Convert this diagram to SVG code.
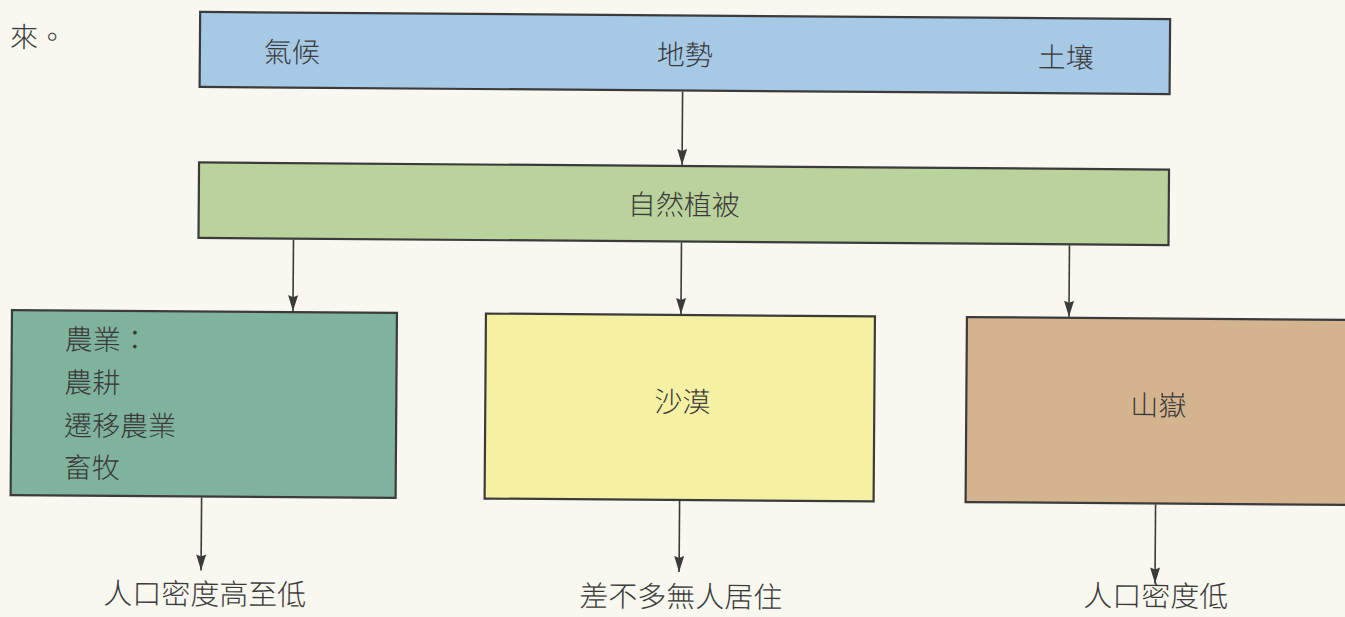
<svg xmlns="http://www.w3.org/2000/svg" width="1345" height="617" viewBox="0 0 1345 617">
  <style>
    .box { stroke: #3b3b3b; stroke-width: 2.2; }
    .t { font-family: "Noto Sans CJK TC", "Noto Sans CJK SC", sans-serif; font-size: 28px; font-weight: 300; fill: #3a3a3a; }
    .c { text-anchor: middle; }
    .lbl { font-size: 29px; }
    .conn { stroke: #3b3b3b; stroke-width: 1.6; fill: none; marker-end: url(#arrow); }
  </style>
  <defs>
    <marker id="arrow" viewBox="0 0 16 10" refX="16" refY="5" markerWidth="16" markerHeight="10" markerUnits="userSpaceOnUse" orient="auto">
      <path d="M0,0 L16,5 L0,10 L2,5 Z" fill="#3b3b3b"/>
    </marker>
  </defs>
  <rect width="1345" height="617" fill="#f8f7f0"/>
  <g transform="rotate(0.42 683 308)">
    <text class="t" x="8" y="52">來。</text>

    <g id="factors">
      <rect class="box" x="198" y="15.5" width="970" height="75" fill="#a6c9e6"/>
      <text class="t" x="262" y="65">氣候</text>
      <text class="t c" x="683" y="65">地勢</text>
      <text class="t" x="1036" y="65">土壤</text>
    </g>

    <g id="vegetation">
      <rect class="box" x="198" y="166" width="970" height="75.5" fill="#bad29b"/>
      <text class="t c" x="683" y="215">自然植被</text>
    </g>

    <g id="agriculture">
      <rect class="box" x="12" y="315" width="385" height="185" fill="#80b39e"/>
      <text class="t" x="65" y="354">農業：</text>
      <text class="t" x="65" y="397">農耕</text>
      <text class="t" x="65" y="440">遷移農業</text>
      <text class="t" x="65" y="482">畜牧</text>
    </g>

    <g id="desert">
      <rect class="box" x="486" y="315" width="389" height="185" fill="#f6f0a2"/>
      <text class="t c" x="683" y="412">沙漠</text>
    </g>

    <g id="mountain">
      <rect class="box" x="967" y="315" width="390" height="185" fill="#d4b48f"/>
      <text class="t c" x="1159" y="412">山嶽</text>
    </g>

    <g id="outcome-agri">
      <text class="t c lbl" x="207" y="608">人口密度高至低</text>
    </g>
    <g id="outcome-desert">
      <text class="t c lbl" x="683" y="607">差不多無人居住</text>
    </g>
    <g id="outcome-mountain">
      <text class="t c lbl" x="1158" y="603">人口密度低</text>
    </g>

    <g id="connectors">
      <line class="conn" x1="681" y1="91.5" x2="681" y2="165"/>
      <line class="conn" x1="293" y1="242.5" x2="293" y2="314"/>
      <line class="conn" x1="681" y1="242.5" x2="681" y2="314"/>
      <line class="conn" x1="1069" y1="242.5" x2="1069" y2="314"/>
      <line class="conn" x1="203" y1="501" x2="203" y2="574"/>
      <line class="conn" x1="681" y1="501" x2="681" y2="572"/>
      <line class="conn" x1="1157" y1="501" x2="1157" y2="580"/>
    </g>
  </g>
</svg>
